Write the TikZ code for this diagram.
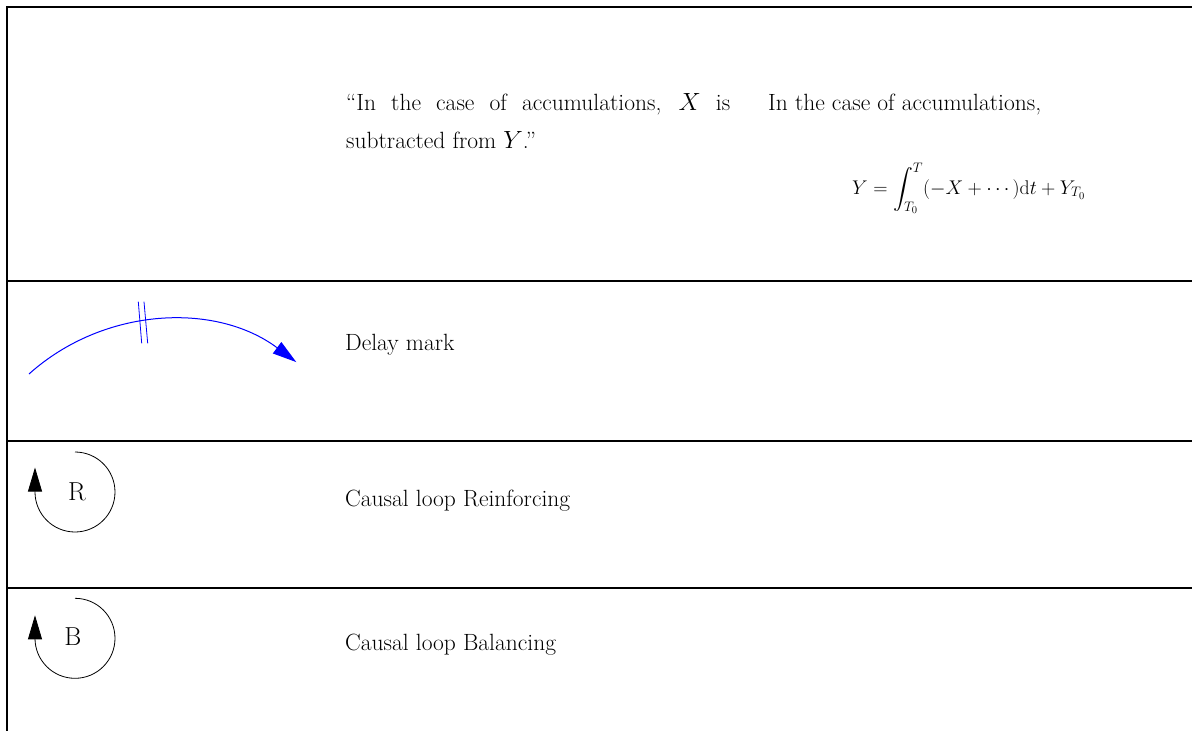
\documentclass[tikz,border=0pt]{standalone}
\usepackage{amsmath}
\usepackage{graphicx}
\usetikzlibrary{arrows.meta}
\begin{document}
\begin{tikzpicture}[x=1pt,y=-1pt,
  rule/.style={line width=2pt,black},
  txt/.style={anchor=base west,inner sep=0pt,font=\fontsize{23.5}{28}\selectfont},
  eqtxt/.style={anchor=base west,inner sep=0pt,font=\fontsize{21}{25}\selectfont},
  sym/.style={inner sep=0pt,font=\fontsize{26}{30}\selectfont},
  delay/.style={blue,line width=1pt},
  bar/.style={blue,line width=0.8pt},
  loopline/.style={black,line width=0.8pt},
  tip/.style={-{Triangle[length=24pt,width=14pt]}}]
\useasboundingbox (0,0) rectangle (1192,731);
% table rules
\draw[rule] (7,731) -- (7,7) -- (1192,7);
\draw[rule] (7,281) -- (1192,281);
\draw[rule] (7,441) -- (1192,441);
\draw[rule] (7,588) -- (1192,588);
% row 1
\node[txt] (q1) at (346,110) {\makebox[384pt][s]{“In the case of accumulations, $X$ is}};
\node[txt] (q2) at (346,148) {subtracted from $Y$.”};
\node[txt] (c1) at (768,110) {In the case of accumulations,};
\node[eqtxt] (eq) at (852,194) {\resizebox{233pt}{!}{$\displaystyle Y=\int_{T_0}^{T}(-X+\cdots)\mathrm{d}t+Y_{T_0}$}};
% row 2: delay mark
\coordinate (ds) at (29,374);
\draw[delay,tip] (ds) arc[start angle=-131.9, end angle=-53.2, radius=211];
\draw[bar] (138.3,301.7) -- (141.7,343.3);
\draw[bar] (144,301.7) -- (147.7,343.3);
\node[txt] (dm) at (345,350) {Delay mark};
% row 3: reinforcing loop
\coordinate (rs) at (75,452);
\draw[loopline,tip] (rs) arc[start angle=-90, end angle=180, radius=40] -- ++(0,-24.5);
\node[sym] (R) at (77,492) {R};
\node[txt] (cr) at (345,506) {Causal loop Reinforcing};
% row 4: balancing loop
\coordinate (bs) at (75,598.3);
\draw[loopline,tip] (bs) arc[start angle=-90, end angle=180, radius=40] -- ++(0,-23);
\node[sym] (B) at (73,637) {B};
\node[txt] (cb) at (345,650) {Causal loop Balancing};
\end{tikzpicture}
\end{document}
